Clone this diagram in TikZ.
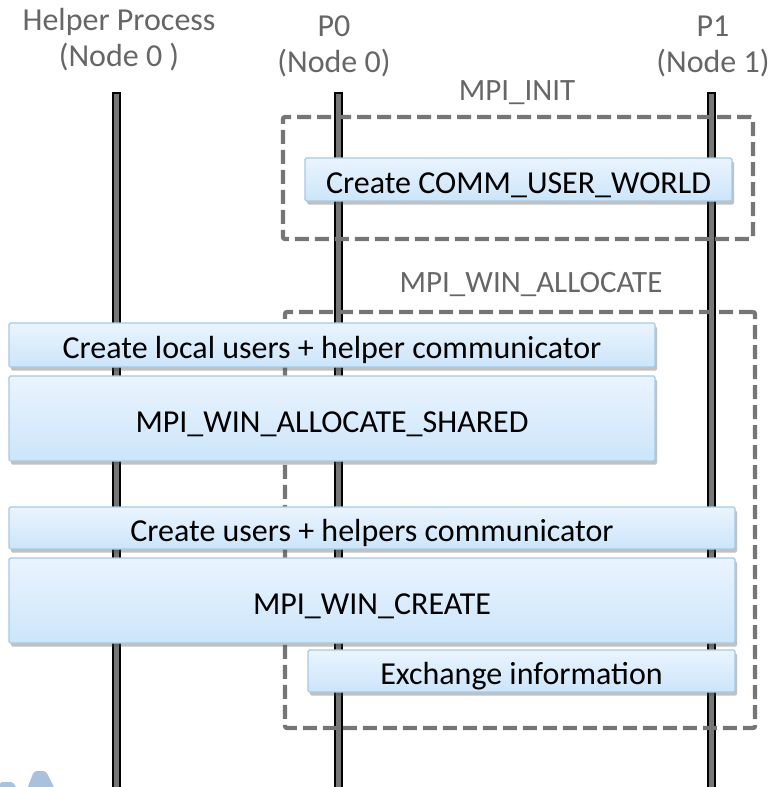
\documentclass[tikz,border=0pt]{standalone}
\usepackage{fontspec}
\setmainfont{Carlito}
\usetikzlibrary{shadows}
\definecolor{labelgray}{HTML}{666666}
\definecolor{dashgray}{HTML}{767676}
\definecolor{barfill}{HTML}{777777}
\definecolor{boxtop}{HTML}{EAF4FE}
\definecolor{boxbot}{HTML}{CCE5FA}
\definecolor{boxedge}{HTML}{A6C8E6}
\definecolor{logoblue}{HTML}{A9C1DA}
\tikzset{
  proclabel/.style={text=labelgray, font=\fontsize{32}{36}\selectfont, align=center, inner sep=0pt},
  phaselabel/.style={text=labelgray, font=\fontsize{31}{34}\selectfont, inner sep=0pt},
  lifeline/.style={fill=barfill, draw=black, line width=1.5pt},
  phasebox/.style={draw=dashgray, line width=4.2pt, dash pattern=on 14pt off 6pt, rounded corners=2pt, inner sep=0pt},
  stepbox/.style={draw=boxedge, line width=1.2pt, top color=boxtop, bottom color=boxbot,
    rounded corners=1.5pt, inner sep=0pt, font=\fontsize{32}{35}\selectfont, text=black,
    text height=29pt, text depth=2pt,
    drop shadow={shadow xshift=2pt, shadow yshift=-3.5pt, opacity=0.35, fill=black!70}}
}
\begin{document}
\begin{tikzpicture}[x=1pt, y=-1pt]
\useasboundingbox (0,0) rectangle (772,787);

% process labels
\node[proclabel] (hp) at (119,39.5) {Helper Process\\(Node 0 )};
\node[proclabel] (p0) at (334,46.5) {P0\\(Node 0)};
\node[proclabel] (p1) at (713,46.5) {P1\\(Node 1)};

% lifelines
\coordinate (hpTop) at (116.5,93);
\coordinate (p0Top) at (338.5,93);
\coordinate (p1Top) at (711.5,93);
\foreach \c in {hpTop, p0Top, p1Top}
  \draw[lifeline] ([xshift=-3.5pt]\c) rectangle ([xshift=3.5pt,yshift=-700pt]\c);

% phase frames
\node[phasebox, minimum width=470pt, minimum height=122pt] (init) at (518,178) {};
\node[phaselabel] (initlbl) at (517,93) {MPI\_INIT};
\node[phasebox, minimum width=470pt, minimum height=416pt] (alloc) at (520,520) {};
\node[phaselabel] (alloclbl) at (531,285) {MPI\_WIN\_ALLOCATE};

% steps
\node[stepbox, minimum width=427pt, minimum height=43pt] (cuw) at (518.5,179.5) {Create COMM\_USER\_WORLD};
\node[stepbox, minimum width=646pt, minimum height=44pt] (luh) at (332,345) {Create local users + helper communicator};
\node[stepbox, minimum width=646pt, minimum height=85pt] (was) at (332,418.5) {MPI\_WIN\_ALLOCATE\_SHARED};
\node[stepbox, minimum width=726pt, minimum height=42pt] (uhc) at (372,528) {Create users + helpers communicator};
\node[stepbox, minimum width=726pt, minimum height=85pt] (wc) at (372,600.5) {MPI\_WIN\_CREATE};
\node[stepbox, minimum width=427pt, minimum height=42pt] (exi) at (521.5,671) {Exchange information};

% corner emblem fragment
\fill[logoblue, rounded corners=3pt] (27,789) -- (34,771) -- (46,771) -- (55,789) -- cycle;
\fill[logoblue, rounded corners=2pt] (-2,789) -- (0,782) -- (13,782) -- (17,789) -- cycle;
\end{tikzpicture}
\end{document}
